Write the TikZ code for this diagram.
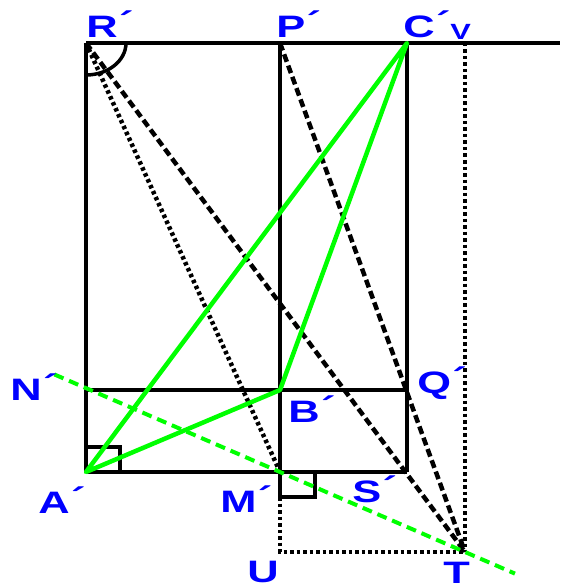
\documentclass[tikz,border=0pt]{standalone}
\usepackage{fontspec}
\setmainfont{Liberation Sans}
\usetikzlibrary{calc}
\definecolor{lblue}{HTML}{0000FF}
\definecolor{lgreen}{HTML}{00FF00}
\newcommand{\pr}{\hspace{1pt}\raisebox{4pt}{´}}

\begin{document}
\begin{tikzpicture}[x=1pt, y=-1pt,
  lab/.style={font=\fontsize{31}{32}\selectfont\bfseries, text=lblue,
    inner sep=0pt, anchor=base west, transform shape, xscale=1.4},
  edge/.style={line width=4.5pt},
  thinedge/.style={line width=3.5pt},
  blackdash/.style={line width=4.5pt, dash pattern=on 8pt off 4pt},
  blackdot/.style={line width=4.5pt, dash pattern=on 3.5pt off 3pt},
  greenline/.style={lgreen, line width=4.5pt},
  greendash/.style={lgreen, line width=4pt, dash pattern=on 10pt off 6pt}]
\useasboundingbox (0,0) rectangle (560,588);
% ================= points =================
\coordinate (R) at (86,43);
\coordinate (P) at (280,43);
\coordinate (C) at (407,43);
\coordinate (V) at (465,43);
\coordinate (E) at (560,43);
\coordinate (L) at (86,390);
\coordinate (B) at (280,390);
\coordinate (Q) at (407,390);
\coordinate (A) at (86,472);
\coordinate (M) at (280,472);
\coordinate (S) at (407,472);
\coordinate (K) at (280,497);
\coordinate (U) at (280,552);
\coordinate (T) at (465,552);
% ================= frame =================
\draw[edge] (R) -- (E);
\draw[edge] (R) -- (A);
\draw[edge] (P) -- (K);
\draw[edge] (C) -- (S);
\draw[thinedge] (L) -- (Q);
\draw[thinedge] (A) -- (S);
% right angles
\draw[thinedge] (A) ++(0,-25) -| ++(34,25);
\draw[thinedge] (M) ++(35,0) |- (K);
\draw[thinedge] (R) ++(40,0) arc[start angle=0, end angle=90, x radius=40, y radius=32];
% ================= construction lines =================
\draw[blackdash] (R) -- (T);
\draw[blackdash] (P) -- (T);
\draw[blackdot] (R) -- (M);
\draw[blackdot] (K) -- (U) -- (T);
\draw[blackdot] (V) -- (T);
\draw[greendash] ($(M)!-1.22!(T)$) -- ($(M)!1.27!(T)$);
% ================= triangle =================
\draw[greenline, line join=round] (A) -- (C) -- (B) -- cycle;
% ================= labels =================
\node[lab] (lR) at (86,38) {R\pr};
\node[lab] (lP) at (276,38) {P\pr};
\node[lab] (lC) at (403,38) {C\pr};
\node[lab, font=\fontsize{22}{24}\selectfont\bfseries] (lV) at (450,40) {V};
\node[lab] (lN) at (10,400) {N\pr};
\node[lab] (lB) at (288,422) {B\pr};
\node[lab] (lQ) at (417,393) {Q\pr};
\node[lab] (lA) at (38,513) {A\pr};
\node[lab] (lM) at (220,512) {M\pr};
\node[lab] (lS) at (352,502) {S\pr};
\node[lab] (lU) at (247,582) {U};
\node[lab] (lT) at (443,583) {T};
\end{tikzpicture}
\end{document}
